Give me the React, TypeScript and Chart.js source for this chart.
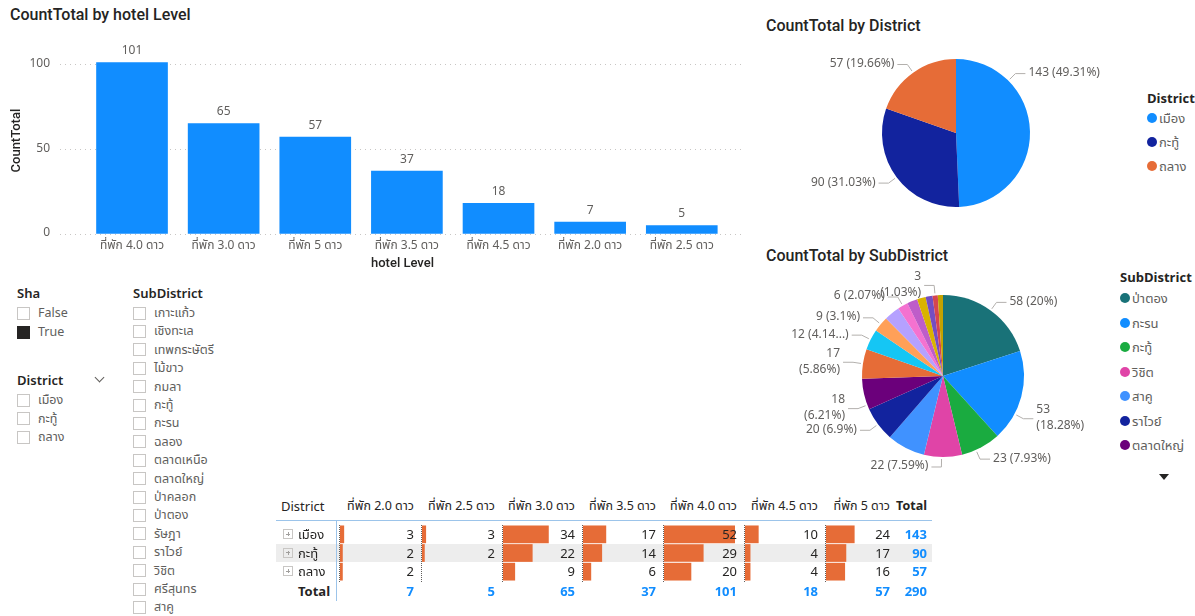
import React, { useEffect, useRef } from 'react';
import { Chart, registerables } from 'chart.js';
Chart.register(...registerables);

const FONT = '"Segoe UI", "Noto Sans Thai", "Noto Sans", "Open Sans", "DejaVu Sans", sans-serif';
const TITLE_FONT = 'Roboto, "Noto Sans Thai", "Noto Sans", sans-serif';

// ---- bar chart data ----
const levels = ['ที่พัก 4.0 ดาว', 'ที่พัก 3.0 ดาว', 'ที่พัก 5 ดาว', 'ที่พัก 3.5 ดาว', 'ที่พัก 4.5 ดาว', 'ที่พัก 2.0 ดาว', 'ที่พัก 2.5 ดาว'];
const levelCounts = [101, 65, 57, 37, 18, 7, 5];
const yTicks = [0, 50, 100];

// ---- district pie ----
const districts = ['เมือง', 'กะทู้', 'ถลาง'];
const districtCounts = [143, 90, 57];
const districtColors = ['#118DFF', '#12239E', '#E66C37'];

// ---- subdistrict pie ----
const subDistricts = ['ป่าตอง', 'กะรน', 'กะทู้', 'วิชิต', 'สาคู', 'ราไวย์', 'ตลาดใหญ่', 'เชิงทะเล', 'ฉลอง', 'รัษฎา', 'กมลา', 'ตลาดเหนือ', 'ศรีสุนทร', 'เทพกระษัตรี', 'ไม้ขาว', 'เกาะแก้ว', 'ป่าคลอก'];
const subCounts = [58, 53, 23, 22, 22, 20, 18, 17, 12, 9, 9, 6, 6, 5, 4, 3, 3];
const subColors = ['#197278', '#118DFF', '#1AAB40', '#E044A7', '#4092FF', '#12239E', '#6B007B', '#E66C37', '#15C6F4', '#FFA058', '#B5A1FF', '#F472D0', '#BE5DC9', '#D9B300', '#744EC2', '#D64550', '#C4A200'];
const subLegendCount = 7;

// ---- slicers ----
const shaOptions = ['False', 'True'];
const shaChecked = [false, true];
const slicerSubDistricts = ['เกาะแก้ว', 'เชิงทะเล', 'เทพกระษัตรี', 'ไม้ขาว', 'กมลา', 'กะทู้', 'กะรน', 'ฉลอง', 'ตลาดเหนือ', 'ตลาดใหญ่', 'ป่าคลอก', 'ป่าตอง', 'รัษฎา', 'ราไวย์', 'วิชิต', 'ศรีสุนทร', 'สาคู'];

// ---- matrix ----
const matrixLevels = ['ที่พัก 2.0 ดาว', 'ที่พัก 2.5 ดาว', 'ที่พัก 3.0 ดาว', 'ที่พัก 3.5 ดาว', 'ที่พัก 4.0 ดาว', 'ที่พัก 4.5 ดาว', 'ที่พัก 5 ดาว'];
const muangRow = [3, 3, 34, 17, 52, 10, 24];
const kathuRow = [2, 2, 22, 14, 29, 4, 17];
const thalangRow: (number | null)[] = [2, null, 9, 6, 20, 4, 16];

// ---- layout / style (not data) ----
const districtLabelModes = ['one', 'one', 'one'];
const districtLabelAngle: (number | null)[] = [45, null, null];
const subLabelModes = ['one', 'two', 'one', 'one', 'none', 'one', 'two', 'two', 'trunc', 'one', 'none', 'one', 'none', 'none', 'none', 'two', 'none'];
const subLabelAngle: (number | null)[] = [null, 118, 156, 181, null, null, 249, null, null, null, null, null, null, null, null, null, null];
const matrixColWidths = [82, 81, 80, 81, 81, 81, 72];
const MATRIX_LEFT = 339;

const GREY = '#605E5C';
const DARK = '#252423';

function pieLabelPlugin(values: number[], modes: string[], angles: (number | null)[]) {
  const total = values.reduce((a, b) => a + b, 0);
  return {
    id: 'pieLabels',
    afterDraw(chart: any) {
      const ctx = chart.ctx;
      const meta = chart.getDatasetMeta(0);
      ctx.save();
      ctx.font = `12px ${FONT}`;
      ctx.fillStyle = GREY;
      ctx.strokeStyle = '#B3B0AD';
      ctx.lineWidth = 1;
      ctx.textBaseline = 'middle';
      meta.data.forEach((arc: any, i: number) => {
        const mode = modes[i];
        if (mode === 'none') return;
        const p = arc.getProps(['x', 'y', 'startAngle', 'endAngle', 'outerRadius'], true);
        let a = (p.startAngle + p.endAngle) / 2;
        const ov = angles[i];
        if (ov != null) a = ((ov - 90) * Math.PI) / 180;
        const c = Math.cos(a), s = Math.sin(a);
        const r = p.outerRadius;
        const x0 = p.x + c * (r + 2), y0 = p.y + s * (r + 2);
        const x1 = p.x + c * (r + 10), y1 = p.y + s * (r + 10);
        const side = c >= 0 ? 1 : -1;
        const x2 = x1 + side * 10;
        ctx.beginPath();
        ctx.moveTo(x0, y0);
        ctx.lineTo(x1, y1);
        ctx.lineTo(x2, y1);
        ctx.stroke();
        const pct = parseFloat(((values[i] / total) * 100).toFixed(2));
        const full = `${values[i]} (${pct}%)`;
        let lines = [full];
        if (mode === 'two') lines = [String(values[i]), `(${pct}%)`];
        if (mode === 'trunc') lines = [full.replace('%)', '...)')];
        ctx.textAlign = side > 0 ? 'left' : 'right';
        const tx = x2 + side * 3;
        const lh = 16;
        lines.forEach((ln, k) => {
          ctx.fillText(ln, tx, y1 + (k - (lines.length - 1) / 2) * lh);
        });
      });
      ctx.restore();
    },
  };
}

const barValuePlugin = {
  id: 'barValues',
  afterDatasetsDraw(chart: any) {
    const ctx = chart.ctx;
    const meta = chart.getDatasetMeta(0);
    ctx.save();
    ctx.font = `12px ${FONT}`;
    ctx.fillStyle = GREY;
    ctx.textAlign = 'center';
    ctx.textBaseline = 'bottom';
    meta.data.forEach((bar: any, i: number) => {
      ctx.fillText(String(levelCounts[i]), bar.x, bar.y - 5);
    });
    ctx.restore();
  },
};

function BarChart() {
  const ref = useRef<HTMLCanvasElement>(null);
  useEffect(() => {
    const chart = new Chart(ref.current!, {
      type: 'bar',
      data: {
        datasets: [
          {
            data: levelCounts.map((v, i) => ({ x: i, y: v })),
            backgroundColor: '#118DFF',
            barThickness: 71,
          },
        ],
      },
      options: {
        animation: false,
        responsive: false,
        maintainAspectRatio: false,
        layout: { padding: { top: 16, right: 15, left: 0, bottom: 0 } },
        plugins: { legend: { display: false }, tooltip: { enabled: false } },
        scales: {
          x: {
            type: 'linear',
            min: -0.786,
            max: 6.69,
            offset: false,
            grid: { display: false, offset: false },
            border: { display: false },
            afterBuildTicks: (s: any) => {
              s.ticks = levels.map((_, i) => ({ value: i }));
            },
            afterFit: (s: any) => {
              s.height = 46;
            },
            ticks: {
              autoSkip: false,
              maxRotation: 0,
              padding: -3,
              color: GREY,
              font: { size: 12, family: FONT },
              callback: (v: any) => levels[v] ?? '',
            },
            title: {
              display: true,
              text: 'hotel Level',
              color: DARK,
              font: { size: 13, family: TITLE_FONT, weight: 500 },
              padding: { top: 0, bottom: 8 },
            },
          },
          y: {
            min: 0,
            max: 110,
            afterBuildTicks: (s: any) => {
              s.ticks = yTicks.map((v) => ({ value: v }));
            },
            afterFit: (s: any) => {
              s.width = 60;
            },
            grid: { color: '#C8C6C4', drawTicks: false, lineWidth: 1 },
            border: { display: false, dash: [1, 4] },
            ticks: { padding: 10, color: GREY, font: { size: 12, family: FONT } },
            title: {
              display: true,
              text: 'CountTotal',
              color: DARK,
              font: { size: 13, family: TITLE_FONT, weight: 500 },
              padding: { top: 9, bottom: 0 },
            },
          },
        },
      } as any,
      plugins: [barValuePlugin],
    });
    return () => chart.destroy();
  }, []);
  return <canvas ref={ref} width={760} height={250} style={{ position: 'absolute', left: 0, top: 30, width: 760, height: 250 }} />;
}

function PieChart(props: { values: number[]; colors: string[]; labels: string[]; modes: string[]; angles: (number | null)[]; left: number; top: number; w: number; h: number; pad: any }) {
  const ref = useRef<HTMLCanvasElement>(null);
  useEffect(() => {
    const chart = new Chart(ref.current!, {
      type: 'pie',
      data: {
        labels: props.labels,
        datasets: [{ data: props.values, backgroundColor: props.colors, borderWidth: 0 }],
      },
      options: {
        animation: false,
        responsive: false,
        maintainAspectRatio: false,
        layout: { padding: props.pad },
        plugins: { legend: { display: false }, tooltip: { enabled: false } },
      } as any,
      plugins: [pieLabelPlugin(props.values, props.modes, props.angles)],
    });
    return () => chart.destroy();
  }, []);
  return <canvas ref={ref} width={props.w} height={props.h} style={{ position: 'absolute', left: props.left, top: props.top, width: props.w, height: props.h }} />;
}

function MiniBars(props: { values: (number | null)[]; max: number; left: number; top: number; w: number; h: number }) {
  const ref = useRef<HTMLCanvasElement>(null);
  useEffect(() => {
    const chart = new Chart(ref.current!, {
      type: 'bar',
      data: {
        labels: props.values.map((_, i) => String(i)),
        datasets: [{ data: props.values, backgroundColor: '#E66C37', barPercentage: 0.95, categoryPercentage: 1 }],
      },
      options: {
        indexAxis: 'y',
        animation: false,
        responsive: false,
        maintainAspectRatio: false,
        layout: { padding: 0 },
        plugins: { legend: { display: false }, tooltip: { enabled: false } },
        scales: {
          x: { type: 'linear', min: 0, max: props.max, display: false },
          y: { display: false },
        },
      } as any,
    });
    return () => chart.destroy();
  }, []);
  return <canvas ref={ref} width={props.w} height={props.h} style={{ position: 'absolute', left: props.left, top: props.top, width: props.w, height: props.h }} />;
}

const T = (p: { x: number; y: number; children: any; size?: number; color?: string; weight?: any; font?: string; right?: boolean }) => {
  const base: any = {
    position: 'absolute',
    top: p.y - 9,
    lineHeight: '20px',
    whiteSpace: 'nowrap',
    fontSize: p.size ?? 13,
    color: p.color ?? GREY,
    fontWeight: p.weight ?? 400,
    fontFamily: p.font ?? FONT,
  };
  if (p.right) {
    base.left = p.x - 200;
    base.width = 200;
    base.textAlign = 'right';
  } else base.left = p.x;
  return <div style={base}>{p.children}</div>;
};

const Box = (p: { x: number; y: number; checked?: boolean }) => (
  <div
    style={{
      position: 'absolute',
      left: p.x,
      top: p.y - 6.5,
      width: 13,
      height: 13,
      boxSizing: 'border-box',
      border: `1px solid ${p.checked ? DARK : '#C8C6C4'}`,
      background: p.checked ? DARK : '#fff',
    }}
  />
);

const Dot = (p: { x: number; y: number; color: string }) => (
  <div style={{ position: 'absolute', left: p.x, top: p.y - 5, width: 10, height: 10, borderRadius: 5, background: p.color }} />
);

function Expand(p: { x: number; y: number }) {
  return (
    <div style={{ position: 'absolute', left: p.x, top: p.y - 5, width: 10, height: 10, boxSizing: 'border-box', border: '1px solid #C8C6C4' }}>
      <div style={{ position: 'absolute', left: 2, top: 3.5, width: 4, height: 1, background: '#A19F9D' }} />
      <div style={{ position: 'absolute', left: 3.5, top: 2, width: 1, height: 4, background: '#A19F9D' }} />
    </div>
  );
}

function Matrix() {
  const rows = [muangRow, kathuRow, thalangRow];
  const rowY = [534, 552.5, 571];
  const lefts: number[] = [];
  let acc = MATRIX_LEFT;
  matrixColWidths.forEach((w) => {
    lefts.push(acc);
    acc += w;
  });
  const totalRight = 932;
  const all = rows.flat().filter((v) => v != null) as number[];
  const max = Math.max(...all);
  const colTotals = matrixLevels.map((_, c) => rows.reduce((s, r) => s + (r[c] ?? 0), 0));
  const rowTotals = rows.map((r) => r.reduce((s: number, v) => s + (v ?? 0), 0));
  const grand = rowTotals.reduce((a, b) => a + b, 0);
  const BLUE = '#118DFF';
  return (
    <>
      <div style={{ position: 'absolute', left: 276, top: 543.5, width: totalRight - 276, height: 18.5, background: '#EDEDED' }} />
      <div style={{ position: 'absolute', left: 276, top: 520, width: totalRight - 276, height: 1, background: '#9CC4EA' }} />
      <div style={{ position: 'absolute', left: 336, top: 520, width: 1, height: 81, background: '#9CC4EA' }} />
      <T x={281} y={506} size={13} color={DARK}>District</T>
      {matrixLevels.map((h, c) => (
        <T key={h} x={lefts[c] + matrixColWidths[c] - 7} y={506} size={12.5} color={DARK} right>
          {h}
        </T>
      ))}
      <T x={totalRight - 5} y={506} size={12.5} color={DARK} weight={700} right>
        Total
      </T>
      {matrixLevels.map((h, c) => (
        <React.Fragment key={'b' + h}>
          <div style={{ position: 'absolute', left: lefts[c], top: 525, height: 57, borderLeft: '1px dotted #605E5C' }} />
          <MiniBars values={rows.map((r) => r[c])} max={max} left={lefts[c] + 1} top={525} w={matrixColWidths[c] - 10} h={56} />
        </React.Fragment>
      ))}
      {rows.map((r, ri) => (
        <React.Fragment key={'r' + ri}>
          <Expand x={283} y={rowY[ri]} />
          <T x={298} y={rowY[ri]} size={13} color={DARK}>
            {districts[ri]}
          </T>
          {r.map((v, c) => (
            <T key={c} x={lefts[c] + matrixColWidths[c] - 7} y={rowY[ri]} size={13} color={DARK} right>
              {v == null ? '' : v}
            </T>
          ))}
          <T x={totalRight - 5} y={rowY[ri]} size={13} color={BLUE} weight={700} right>
            {rowTotals[ri]}
          </T>
        </React.Fragment>
      ))}
      <T x={298} y={591} size={13} color={DARK} weight={700}>
        Total
      </T>
      {colTotals.map((v, c) => (
        <T key={'t' + c} x={lefts[c] + matrixColWidths[c] - 7} y={591} size={13} color={BLUE} weight={700} right>
          {v}
        </T>
      ))}
      <T x={totalRight - 5} y={591} size={13} color={BLUE} weight={700} right>
        {grand}
      </T>
    </>
  );
}

export default function App() {
  return (
    <div style={{ position: 'absolute', left: 0, top: 0, width: 1195, height: 616, background: '#fff', overflow: 'hidden', fontFamily: FONT }}>
      {/* bar chart */}
      <T x={10} y={14} size={16} color={DARK} weight={500} font={TITLE_FONT}>
        CountTotal by hotel Level
      </T>
      <BarChart />

      {/* district pie */}
      <T x={766} y={25} size={16} color={DARK} weight={500} font={TITLE_FONT}>
        CountTotal by District
      </T>
      <PieChart
        values={districtCounts}
        colors={districtColors}
        labels={districts}
        modes={districtLabelModes}
        angles={districtLabelAngle}
        left={780}
        top={40}
        w={360}
        h={190}
        pad={{ left: 102, right: 110, top: 19, bottom: 23 }}
      />
      <T x={1147} y={98} size={13} color={DARK} weight={700}>
        District
      </T>
      {districts.map((d, i) => (
        <React.Fragment key={d}>
          <Dot x={1147} y={118 + i * 24} color={districtColors[i]} />
          <T x={1159} y={118 + i * 24} size={13}>
            {d}
          </T>
        </React.Fragment>
      ))}

      {/* subdistrict pie */}
      <T x={766} y={255} size={16} color={DARK} weight={500} font={TITLE_FONT}>
        CountTotal by SubDistrict
      </T>
      <PieChart
        values={subCounts}
        colors={subColors}
        labels={subDistricts}
        modes={subLabelModes}
        angles={subLabelAngle}
        left={770}
        top={262}
        w={340}
        h={230}
        pad={{ left: 92, right: 86, top: 33, bottom: 35 }}
      />
      <T x={1120} y={277} size={13} color={DARK} weight={700}>
        SubDistrict
      </T>
      {subDistricts.slice(0, subLegendCount).map((d, i) => (
        <React.Fragment key={d}>
          <Dot x={1120} y={298 + i * 24.5} color={subColors[i]} />
          <T x={1132} y={298 + i * 24.5} size={13}>
            {d}
          </T>
        </React.Fragment>
      ))}
      <div style={{ position: 'absolute', left: 1159, top: 474, width: 0, height: 0, borderLeft: '5px solid transparent', borderRight: '5px solid transparent', borderTop: '6px solid #252423' }} />

      {/* slicers */}
      <T x={17} y={293} size={13} color={DARK} weight={600}>
        Sha
      </T>
      {shaOptions.map((o, i) => (
        <React.Fragment key={o}>
          <Box x={17} y={313 + i * 19} checked={shaChecked[i]} />
          <T x={38} y={313 + i * 19} size={12.5}>
            {o}
          </T>
        </React.Fragment>
      ))}
      <T x={17} y={380} size={13} color={DARK} weight={600}>
        District
      </T>
      <div style={{ position: 'absolute', left: 96, top: 374, width: 6, height: 6, borderRight: '1px solid #605E5C', borderBottom: '1px solid #605E5C', transform: 'rotate(45deg)' }} />
      {districts.map((d, i) => (
        <React.Fragment key={'s' + d}>
          <Box x={17} y={400 + i * 18.5} />
          <T x={38} y={400 + i * 18.5} size={12.5}>
            {d}
          </T>
        </React.Fragment>
      ))}
      <T x={133} y={293} size={13} color={DARK} weight={600}>
        SubDistrict
      </T>
      {slicerSubDistricts.map((d, i) => (
        <React.Fragment key={'ss' + d}>
          <Box x={133} y={313 + i * 18.4} />
          <T x={154} y={313 + i * 18.4} size={12.5}>
            {d}
          </T>
        </React.Fragment>
      ))}

      <Matrix />
    </div>
  );
}
